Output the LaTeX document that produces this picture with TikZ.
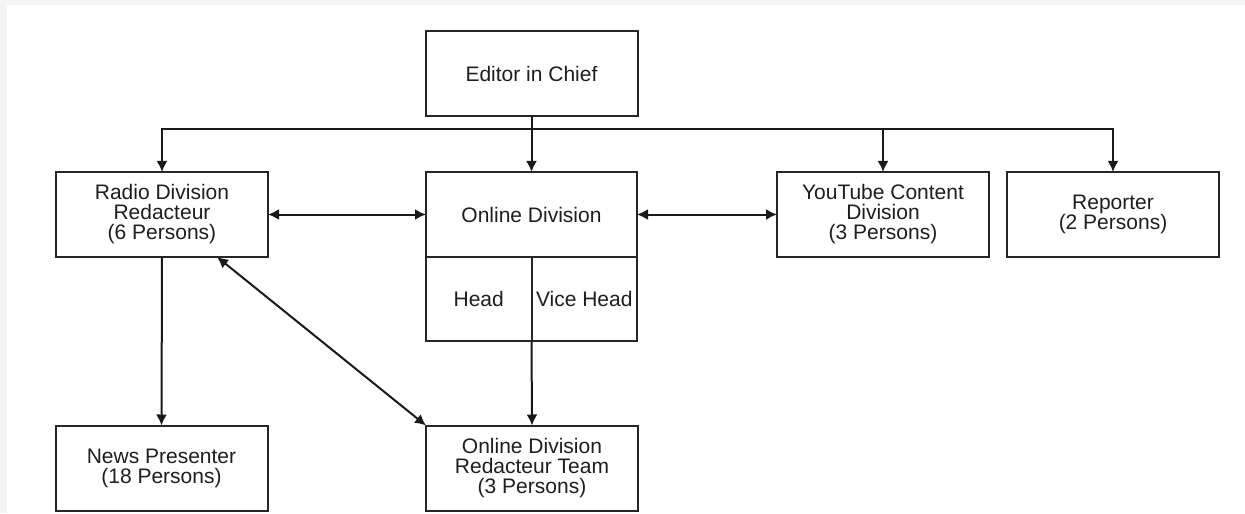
\documentclass[tikz,border=0pt]{standalone}
\usepackage{fontspec}
\setmainfont{Liberation Sans}
\usetikzlibrary{arrows.meta,calc}
\definecolor{bandgray}{HTML}{F3F5F5}
\definecolor{txt}{HTML}{1E1E1E}
\begin{document}
\begin{tikzpicture}[x=0.5pt,y=-0.5pt,
  box/.style={draw=black!85,line width=1pt,fill=white,inner sep=0pt,outer sep=0pt,
    minimum width=106pt,minimum height=42.5pt,align=center,
    font=\fontsize{10.5}{10}\selectfont,text=txt},
  cell/.style={draw=black!85,line width=1pt,inner sep=0pt,outer sep=0pt,
    minimum width=52.75pt,minimum height=42pt,
    font=\fontsize{10.5}{10}\selectfont,text=txt},
  conn/.style={line width=1pt,draw=black!90},
  arr/.style={conn,-{Latex[length=5.5pt,width=5.5pt]}},
  darr/.style={conn,{Latex[length=5.5pt,width=5.5pt]}-{Latex[length=5.5pt,width=5.5pt]}}]
\useasboundingbox (0,0) rectangle (1245,513);
\fill[white] (0,0) rectangle (1245,513);
\fill[bandgray] (0,0) rectangle (1245,5);
\fill[bandgray] (0,0) rectangle (7,513);

\node[box] (editor) at (531.5,74) {Editor in Chief};
\node[box] (radio) at (162,214.5) {Radio Division\\Redacteur\\(6 Persons)};
\node[box,minimum width=105.5pt] (onl) at (531.5,214.5) {Online Division};
\node[cell,anchor=north west] (head) at (onl.south west) {Head};
\node[cell,anchor=north east] (vice) at (onl.south east) {Vice Head};
\node[box] (yt) at (883,214.5) {YouTube Content\\Division\\(3 Persons)};
\node[box] (rep) at (1113,214.5) {Reporter\\(2 Persons)};
\node[box] (news) at (161.5,468) {News Presenter\\(18 Persons)};
\node[box] (red) at (532,468) {Online Division\\Redacteur Team\\(3 Persons)};

\coordinate (bus) at (531.5,129);
\draw[arr] (editor.south) -- (onl.north);
\draw[arr] (bus) -| (radio.north);
\draw[arr] (bus) -| (yt.north);
\draw[arr] (bus) -| (rep.north);
\draw[darr] (radio.east) -- (onl.west);
\draw[darr] (onl.east) -- (yt.west);
\draw[arr] (radio.south) -- (news.north);
\draw[arr] (head.south east) -- (red.north);
\coordinate (rdiag) at ($(radio.south)!0.52!(radio.south east)$);
\draw[darr] (rdiag) -- (red.north west);
\end{tikzpicture}
\end{document}
